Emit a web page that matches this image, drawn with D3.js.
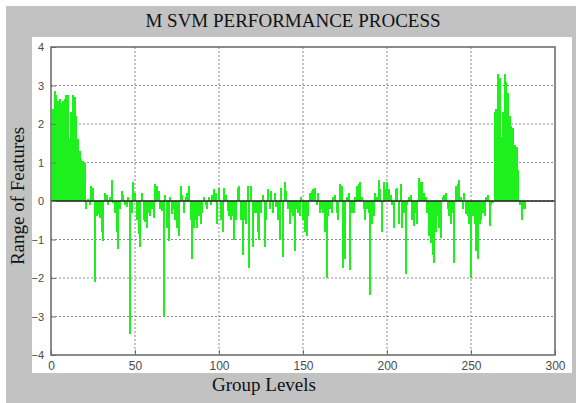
<!DOCTYPE html>
<html>
<head>
<meta charset="utf-8">
<script src="https://cdn.jsdelivr.net/npm/d3@7"></script>
<style>
  body { margin: 0; background: #fff; }
  .grid line { stroke: #8a8a8a; stroke-width: 1; stroke-dasharray: 2,2; }
  .tick-label { font-family: "Liberation Sans", Arial, sans-serif; fill: #4a4a4a; }
  .serif { font-family: "Liberation Serif", "Times New Roman", serif; fill: #111; }
</style>
</head>
<body>
<div id="chart"></div>
<script>
// Values, one per group level (1..N)
var values = [
  2.4, 2.85, 2.75, 2.6, 2.65, 2.55, 2.6, 2.65, 2.75, 2.75, 1.6, 2.3, 2.75, 2.7, 2.2, 1.6, 1.3, 1.1, 1.05, 1.0,
  -0.2, 0.05, -0.1, 0.4, 0.35, -2.1, -0.4, -0.35, -0.45, -0.8, -1.03, 0.2, 0.15, -0.1, 0.1, 0.55, -0.05, -0.3, -0.8, -1.25,
  -0.2, 0.25, 0.15, -0.1, -0.15, 0.1, -3.45, -0.3, 0.5, 0.2, -0.5, -0.85, -1.2, 0.2, -0.5, -0.55, -0.7, -0.3, -0.4, -0.2,
  -0.45, 0.45, 0.4, 0.25, -0.2, -0.25, -3.0, 0.15, -0.7, -1.05, 0.1, -0.35, -0.2, -0.5, -0.7, -0.9, 0.4, 0.15, -0.3,
  0.1, 0.2, 0.4, -0.5, -1.5, -0.7, -0.5, -0.7, -0.4, -0.6, -0.3, 0.1, -0.1, -0.2, 0.1, -0.1, 0.15, 0.3, 0.2, -0.6,
  0.35, -0.5, -0.8, 0.35, 0.15, -0.25, -0.4, -0.5, -0.4, -1.0, -0.5, 0.35, 0.4, -0.5, -1.4, -0.5, -0.6, 0.4, -1.75, 0.4,
  -1.2, -0.3, -0.3, -0.8, -1.0, -0.3, 0.15, -1.2, -0.5, 0.3, -0.2, 0.25, -0.3, 0.2, -0.15, -0.5, -1.0, 0.35, -1.45, 0.5,
  0.25, -0.2, -0.6, -0.3, -0.4, -1.3, -0.2, -0.3, -0.4, 0.1, -0.5, -0.8, -0.9, -0.4, 0.2, 0.25, 0.3, 0.35, -0.1,
  0.2, -0.3, -0.2, -0.3, -0.8, -2.0, -0.4, -0.2, -0.3, 0.1, 0.15, -0.3, -0.5, 0.45, 0.4, -1.75, -1.5, 0.1, 0.2, -1.8,
  -0.3, -0.3, 0.1, 0.4, 0.45, 0.5, 0.1, -0.2, -0.5, -0.2, -0.3, -2.45, -0.6, -0.4, 0.2, 0.1, 0.55, 0.3, -0.8, 0.5,
  0.3, 0.5, 0.3, 0.15, -0.1, -0.7, 0.3, 0.35, -0.6, 0.45, -0.7, -0.3, -1.9, -0.1, 0.1, 0.15, -0.5, -0.65, -0.3,
  -0.6, 0.6, 0.5, 0.5, 0.2, 0.1, -0.3, -0.9, -1.1, -1.4, -1.6, -0.8, -0.4, -0.7, -0.95, 0.1, 0.15, 0.2, -0.2, -0.4,
  -0.6, -0.3, -1.6, 0.4, 0.45, 0.55, 0.1, -0.2, 0.2, -0.35, -0.4, -0.6, -2.0, -0.4, -0.6, -1.3, -1.5, -0.6, -0.5,
  -0.3, -0.4, 0.1, 0.15, -0.65, -0.1, -0.05, 2.3, 2.4, 3.3, 3.2, 1.65, 2.3, 3.3, 3.1, 2.8, 2.2, 1.95, 1.9, 1.45, 1.4, 0.8,
  -0.1, -0.5, -0.2, -0.2
];
var xTicks = [0, 50, 100, 150, 200, 250, 300];
var yTicks = [-4, -3, -2, -1, 0, 1, 2, 3, 4];
var titleText = "M SVM PERFORMANCE PROCESS";
var xLabel = "Group Levels";
var yLabel = "Range of Features";

var W = 576, H = 403;
var margin = {top: 47, left: 51},
    width = 504,
    height = 308;

var svg = d3.select("#chart").append("svg")
    .attr("width", W)
    .attr("height", H);

// figure frame
svg.append("rect").attr("x", 6).attr("y", 6).attr("width", W - 6).attr("height", H - 6).attr("fill", "#c2c2c2");
svg.append("rect").attr("x", 32).attr("y", 37).attr("width", 540).attr("height", 336).attr("fill", "#fff");

var x = d3.scaleLinear().domain([0, 300]).range([0, width]);
var y = d3.scaleLinear().domain([-4, 4]).range([height, 0]);

var g = svg.append("g")
    .attr("transform", "translate(" + margin.left + "," + margin.top + ")");

// dotted grid
var grid = g.append("g").attr("class", "grid");
grid.selectAll("line.gx")
  .data(xTicks.slice(1, -1))
  .enter().append("line")
    .attr("x1", function(d) { return x(d); })
    .attr("x2", function(d) { return x(d); })
    .attr("y1", 0)
    .attr("y2", height);
grid.selectAll("line.gy")
  .data(yTicks.slice(1, -1))
  .enter().append("line")
    .attr("x1", 0)
    .attr("x2", width)
    .attr("y1", function(d) { return y(d); })
    .attr("y2", function(d) { return y(d); });

// bars
var bw = x(1) - x(0);
g.selectAll("rect.bar")
  .data(values)
  .enter().append("rect")
    .attr("class", "bar")
    .attr("x", function(d, i) { return x(i + 1) - bw / 2; })
    .attr("y", function(d) { return y(Math.max(0, d)); })
    .attr("width", bw + 0.3)
    .attr("height", function(d) { return Math.abs(y(d) - y(0)); })
    .attr("fill", "#1ef01e")
    .attr("shape-rendering", "crispEdges");

// zero baseline
g.append("line")
    .attr("x1", 0).attr("x2", width)
    .attr("y1", y(0)).attr("y2", y(0))
    .attr("stroke", "#222").attr("stroke-width", 1.3);

// axes (ticks inward, labels outside)
var xAxis = d3.axisBottom(x).tickValues(xTicks).tickSize(-5).tickPadding(6);
var yAxis = d3.axisLeft(y).tickValues(yTicks).tickSize(-5).tickPadding(6);

var gx = g.append("g").attr("transform", "translate(0," + height + ")").call(xAxis);
var gy = g.append("g").call(yAxis);
[gx, gy].forEach(function(a) {
  a.select(".domain").remove();
  a.selectAll(".tick line").attr("stroke", "#777");
  a.selectAll(".tick text").attr("class", "tick-label");
});
gx.selectAll(".tick text").style("font-size", "12px");
gy.selectAll(".tick text").style("font-size", "11px").attr("x", -7);

// box
g.append("rect")
    .attr("width", width).attr("height", height)
    .attr("fill", "none").attr("stroke", "#666").attr("stroke-width", 1.5);

// titles
svg.append("text").attr("class", "serif")
    .attr("x", 293).attr("y", 27)
    .attr("text-anchor", "middle")
    .style("font-size", "19px")
    .text(titleText);

svg.append("text").attr("class", "serif")
    .attr("x", 264).attr("y", 391)
    .attr("text-anchor", "middle")
    .style("font-size", "19px")
    .text(xLabel);

svg.append("text").attr("class", "serif")
    .attr("transform", "translate(24,196) rotate(-90)")
    .attr("text-anchor", "middle")
    .style("font-size", "19px")
    .text(yLabel);
</script>
</body>
</html>
